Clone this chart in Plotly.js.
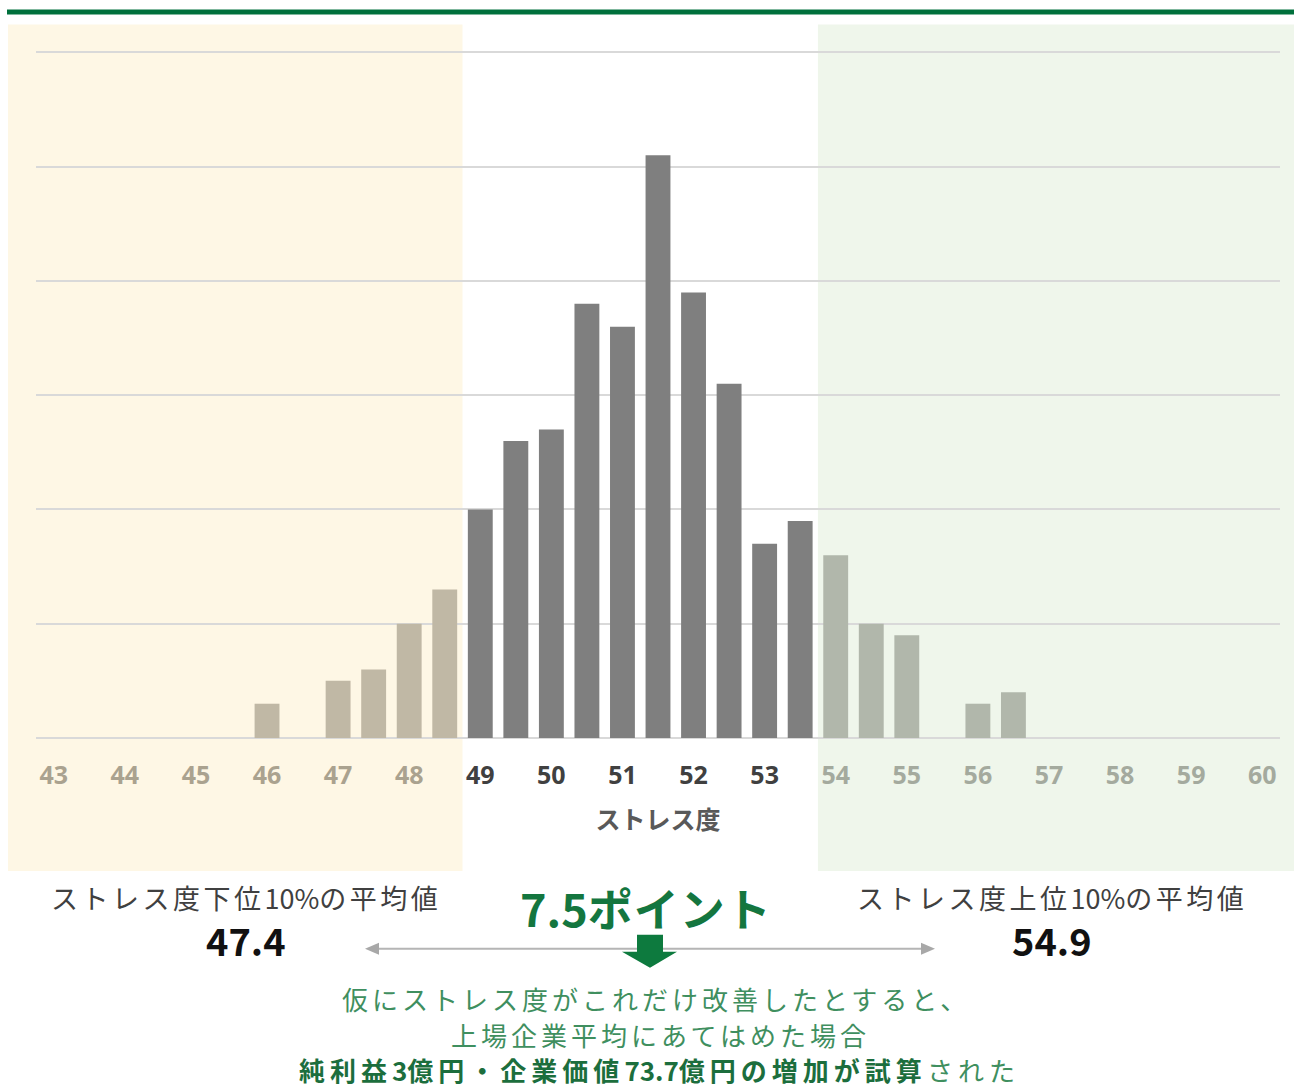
<!DOCTYPE html>
<html>
<head>
<meta charset="utf-8">
<script src="https://cdn.plot.ly/plotly-3.0.1.min.js"></script>
<style>
html,body{margin:0;padding:0;background:#fff;}
#chart{width:1294px;height:1090px;}
</style>
</head>
<body>
<div id="chart"></div>
<script>
// ---- data ----
const stressLevels = [46, 47, 47.5, 48, 48.5, 49, 49.5, 50, 50.5, 51, 51.5, 52, 52.5, 53, 53.5, 54, 54.5, 55, 56, 56.5];
const counts       = [3, 5, 6, 10, 13, 20, 26, 27, 38, 36, 51, 39, 31, 17, 19, 16, 10, 9, 3, 4];
const tickValues   = [43, 44, 45, 46, 47, 48, 49, 50, 51, 52, 53, 54, 55, 56, 57, 58, 59, 60];
const lowerBound   = 48.75;   // bottom 10% region edge
const upperBound   = 53.75;   // top 10% region edge
const lowerMean    = '47.4';
const upperMean    = '54.9';
const gapLabel     = '7.5ポイント';
const axisTitle    = 'ストレス度';
const lowerLabel   = 'ストレス度下位10%の平均値';
const upperLabel   = 'ストレス度上位10%の平均値';
const noteLine1    = '仮にストレス度がこれだけ改善したとすると、';
const noteLine2    = '上場企業平均にあてはめた場合';
const noteLine3b   = '純利益3億円・企業価値73.7億円の増加が試算';
const noteLine3r   = 'された';

// ---- geometry helpers ----
const W = 1294, H = 1090;
const YR = [0, 61];
const L = 36, R = 1280, B = 738;
const T = 52 - (B - 52) / 60 * (YR[1] - 60);   // so that 60 sits at y=52
const XR = [42.75, 60.25];
const px = x => (x - L) / (R - L);
const py = y => (B - y) / (B - T);
const dx = v => (v - XR[0]) / (XR[1] - XR[0]);
const path = pts => 'M' + pts.map(p => px(p[0]).toFixed(5) + ',' + py(p[1]).toFixed(5)).join(' L') + ' Z';

const colLow = '#c0b8a5', colMid = '#7f7f7f', colHigh = '#b1b7ab';
const barColors = stressLevels.map(s => s < lowerBound ? colLow : (s > upperBound ? colHigh : colMid));

const tickColor = v => v < lowerBound ? '#aaa28f' : (v > upperBound ? '#a4aa9e' : '#404040');
const tickText = tickValues.map(v => '<span style="color:' + tickColor(v) + '">' + v + '</span>');

const JP = '"Noto Sans CJK JP", "Noto Sans", sans-serif';

const trace = {
  type: 'bar',
  x: stressLevels,
  y: counts,
  marker: {color: barColors, line: {width: 0}},
  hoverinfo: 'x+y'
};

const shapes = [
  {type:'rect', xref:'paper', yref:'paper', x0:px(7), x1:px(1294), y0:py(9), y1:py(14),
   fillcolor:'#00703c', line:{width:0}, layer:'above'},
  {type:'rect', xref:'paper', yref:'paper', x0:px(8), x1:dx(lowerBound), y0:py(24), y1:py(871),
   fillcolor:'#fef7e5', line:{width:0}, layer:'below'},
  {type:'rect', xref:'paper', yref:'paper', x0:dx(upperBound), x1:px(1294), y0:py(24), y1:py(871),
   fillcolor:'#eff6eb', line:{width:0}, layer:'below'},
  {type:'line', xref:'paper', yref:'paper', x0:px(378), x1:px(922), y0:py(949), y1:py(949),
   line:{color:'#b5b5b5', width:2}, layer:'above'},
  {type:'path', xref:'paper', yref:'paper', path:path([[365,949],[379,943],[379,955]]),
   fillcolor:'#a8a8a8', line:{width:0}, layer:'above'},
  {type:'path', xref:'paper', yref:'paper', path:path([[935,949],[921,943],[921,955]]),
   fillcolor:'#a8a8a8', line:{width:0}, layer:'above'},
  {type:'path', xref:'paper', yref:'paper',
   path:path([[637,935],[663,935],[663,952],[677,952],[650,968],[622,952],[637,952]]),
   fillcolor:'#0d7a3e', line:{width:0}, layer:'above'}
];

// letter-spacing only on full-width (non-ASCII) runs
const sp = (t, ls, extra) => t.replace(/([^\x00-\x7F]+)/g,
  run => '<span style="letter-spacing:' + ls + 'px' + (extra ? ';' + extra : '') + '">' + run + '</span>');
const ann = (text, x, y, size, color, bold) => ({
  xref:'paper', yref:'paper', x:px(x), y:py(y), xanchor:'center', yanchor:'middle',
  text: text, showarrow:false,
  font:{family:JP, size:size, color:color, weight: bold ? 'bold' : 'normal'}
});

const annotations = [
  ann(sp(lowerLabel, 3.5), 246, 898, 27, '#404040', false),
  ann(lowerMean, 246, 940, 38, '#111111', true),
  ann(sp(upperLabel, 3.5), 1052, 898, 27, '#404040', false),
  ann(upperMean, 1052, 940, 38, '#111111', true),
  ann(sp(gapLabel, 1), 646, 908, 45, '#14763f', true),
  ann(sp(noteLine1, 4), 656, 999, 26, '#3f8f5f', false),
  ann(sp(noteLine2, 4), 660, 1035, 26, '#3f8f5f', false),
  ann('<b>' + sp(noteLine3b, 5) + '</b>' + sp(noteLine3r, 5, 'color:#3f8f5f'), 659, 1070, 26, '#1c6e3d', false)
];

const layout = {
  width: W, height: H,
  margin: {l: L, r: W - R, t: T, b: H - B, pad: 0},
  paper_bgcolor: '#ffffff',
  plot_bgcolor: 'rgba(0,0,0,0)',
  showlegend: false,
  bargap: 0.3,
  xaxis: {
    range: XR, tickmode:'array', tickvals: tickValues, ticktext: tickText,
    ticks:'', showgrid:false, zeroline:false, showline:false,
    ticklabelstandoff: 20,
    tickfont: {family:'"Open Sans", "Noto Sans", sans-serif', size:25, weight:'bold', color:'#404040'},
    title: {text: axisTitle, standoff: 21, font:{family:JP, size:25, weight:'bold', color:'#595959'}}
  },
  yaxis: {
    range: YR, tickmode:'array', tickvals:[0,10,20,30,40,50,60], showticklabels:false, ticks:'',
    showgrid:true, gridcolor:'#d9d9d9', gridwidth:2,
    zeroline:true, zerolinecolor:'#d9d9d9', zerolinewidth:2, showline:false
  },
  shapes: shapes,
  annotations: annotations
};

Plotly.newPlot('chart', [trace], layout, {displayModeBar:false, staticPlot:true});
</script>
</body>
</html>
